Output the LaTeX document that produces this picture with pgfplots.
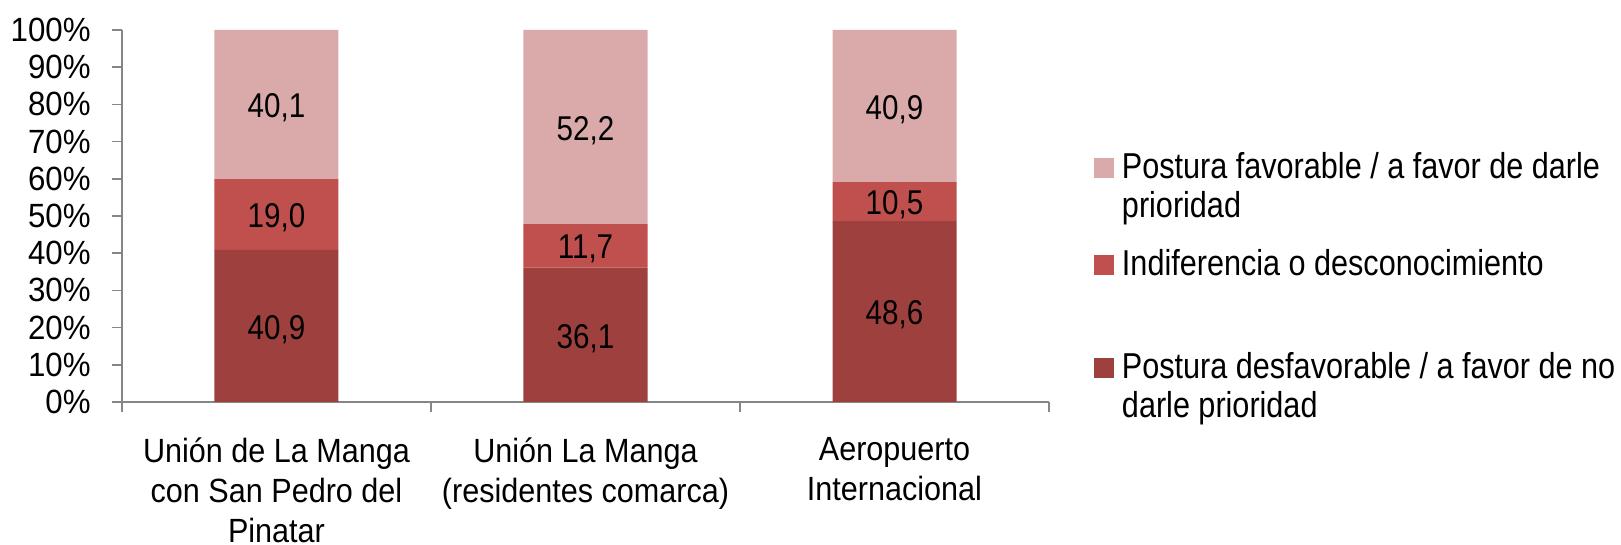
\documentclass[border=0pt]{standalone}
\usepackage{fontspec}
\setmainfont{Liberation Sans}[FakeStretch=0.93]
\newfontfamily\xlabfont{Liberation Sans}[FakeStretch=0.91]
\newfontfamily\datfont{Liberation Sans}[FakeStretch=0.86]
\newfontfamily\legfont{Liberation Sans}[FakeStretch=0.85]
\usepackage{pgfplots}
\usepackage{pgfplotstable}
\pgfplotsset{compat=1.18}
\definecolor{fav}{RGB}{218,170,170}
\definecolor{ind}{RGB}{192,80,77}
\definecolor{des}{RGB}{158,65,62}
\definecolor{axgray}{RGB}{134,134,134}
\pgfplotstableread{
x des ind fav
0 40.9 19.0 40.1
1 36.1 11.7 52.2
2 48.6 10.5 40.9
}\datatab
% label positions (segment centres) and label texts
\pgfplotstableread{
x ypos label
0 19.55 40,9
0 49.50 19,0
0 79.05 40,1
1 17.15 36,1
1 41.05 11,7
1 73.00 52,2
2 23.40 48,6
2 52.95 10,5
2 78.65 40,9
}\labtab
\newcommand{\legtext}[1]{\parbox[t]{260bp}{\legfont\fontsize{18bp}{19.8bp}\selectfont #1}}
\begin{document}
\begin{tikzpicture}[font=\fontsize{16.8bp}{19.4bp}\selectfont]
\path[use as bounding box] (-61bp,-71.5bp) rectangle (749.5bp,201bp);
\begin{axis}[
  scale only axis,
  width=463.5bp, height=186bp,
  at={(0,0)}, anchor=south west,
  ybar stacked, bar width=62bp,
  xmin=-0.5, xmax=2.5, ymin=0, ymax=100,
  axis lines*=left,
  axis line style={axgray, line width=0.75bp},
  tick style={axgray, line width=0.75bp},
  tick align=outside,
  major tick length=5bp,
  xtick={-0.5,0.5,1.5,2.5}, xticklabels={},
  extra x ticks={0,1,2},
  extra x tick labels={{Unión de La Manga\\con San Pedro del\\Pinatar},{Unión La Manga\\(residentes comarca)},{Aeropuerto\\Internacional}},
  extra x tick style={major tick length=0pt, xticklabel style={font=\xlabfont\fontsize{16.8bp}{20bp}\selectfont, align=center, anchor=north, inner sep=0pt, yshift=-17.5bp}},
  ytick={0,10,...,100},
  yticklabels={0\%,10\%,20\%,30\%,40\%,50\%,60\%,70\%,80\%,90\%,100\%},
  yticklabel style={anchor=east, inner sep=0pt, xshift=-10.5bp},
  legend image code/.code={\fill[#1,draw=none] (0bp,0bp) rectangle (10bp,10bp);},
  reverse legend,
  legend style={at={(1,1)}, anchor=north west, xshift=22.5bp, yshift=-59bp, draw=none, fill=none, inner sep=0pt, outer sep=0pt, row sep=30bp, column sep=2bp, cells={anchor=base west, inner sep=0pt}},
]
\addplot[fill=des, draw=none] table[x=x, y=des] {\datatab};
\addlegendentry{\legtext{\rule{0pt}{16bp}Postura desfavorable / a favor de no\\darle prioridad}}
\addplot[fill=ind, draw=none] table[x=x, y=ind] {\datatab};
\addlegendentry{\legtext{Indiferencia o desconocimiento}}
\addplot[fill=fav, draw=none] table[x=x, y=fav] {\datatab};
\addlegendentry{\legtext{Postura favorable / a favor de darle\\prioridad}}
\end{axis}
\begin{axis}[
  scale only axis,
  width=463.5bp, height=186bp,
  at={(0,0)}, anchor=south west,
  xmin=-0.5, xmax=2.5, ymin=0, ymax=100,
  hide axis,
]
\addplot[draw=none, mark=none, nodes near coords, point meta=explicit symbolic,
  nodes near coords style={font=\datfont\fontsize{17.2bp}{19.4bp}\selectfont, anchor=center, inner sep=0pt, text=black}]
  table[x=x, y=ypos, meta=label] {\labtab};
\end{axis}
\end{tikzpicture}
\end{document}
